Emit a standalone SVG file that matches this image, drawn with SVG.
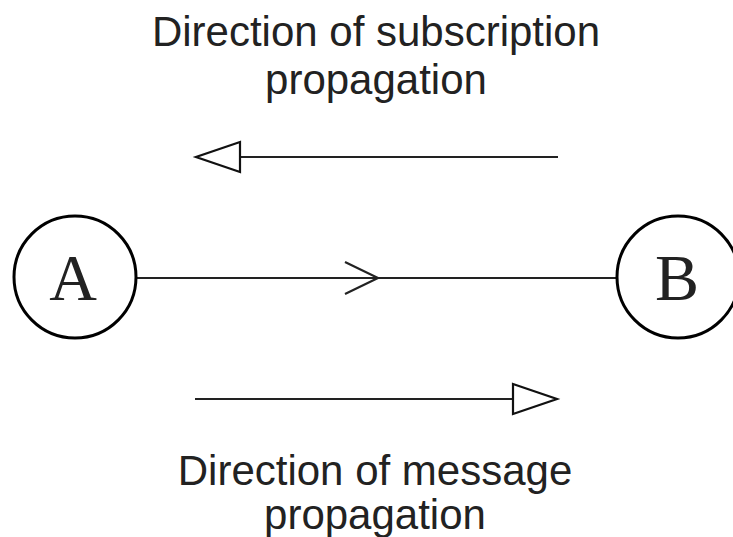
<svg xmlns="http://www.w3.org/2000/svg" width="733" height="537" viewBox="0 0 733 537">
<style>
.lbl{font-family:"Liberation Sans",Arial,sans-serif;font-size:42px;fill:#222;text-anchor:middle}
.node{fill:#fff;stroke:#000;stroke-width:3}
.ntxt{font-family:"Liberation Serif","Times New Roman",serif;font-size:66px;fill:#222;text-anchor:middle}
.ln{stroke:#222;stroke-width:2.2;fill:none}
.tri{fill:#fff;stroke:#111;stroke-width:2.2;stroke-linejoin:miter}
</style>
<rect width="733" height="537" fill="#fff"/>
<g id="connectors">
<line class="ln" x1="137" y1="278" x2="617" y2="278"/>
<polyline class="ln" points="345,262 378,278 345,294"/>
<line class="ln" x1="558" y1="157" x2="240" y2="157"/>
<polygon class="tri" points="240,142 196,157 240,172"/>
<line class="ln" x1="195" y1="399" x2="513" y2="399"/>
<polygon class="tri" points="513,384 557,399 513,414"/>
</g>
<g id="nodeA">
<circle class="node" cx="75" cy="277" r="61"/>
<text class="ntxt" x="73" y="300">A</text>
</g>
<g id="nodeB">
<circle class="node" cx="678" cy="277" r="61"/>
<text class="ntxt" x="677" y="300">B</text>
</g>
<g id="labelTop">
<text class="lbl" x="376" y="46">Direction of subscription</text>
<text class="lbl" x="376" y="94">propagation</text>
</g>
<g id="labelBottom">
<text class="lbl" x="375" y="485">Direction of message</text>
<text class="lbl" x="375" y="529">propagation</text>
</g>
</svg>
